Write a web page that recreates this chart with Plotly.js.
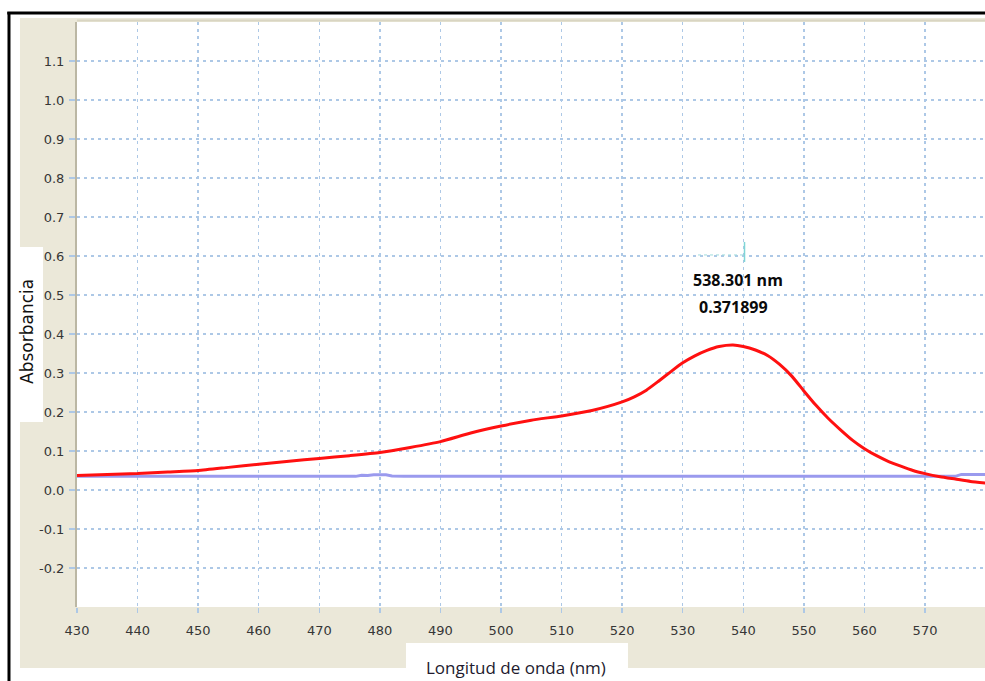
<!DOCTYPE html>
<html>
<head>
<meta charset="utf-8">
<script src="https://cdn.plot.ly/plotly-3.0.1.min.js"></script>
<style>
  html, body { margin: 0; padding: 0; background: #ffffff; }
  #chart { width: 985px; height: 681px; }
</style>
</head>
<body>
<div id="chart"></div>
<script>
// Sample absorbance spectrum (nm, absorbance)
const sampleWavelength = [430, 435, 440, 445, 450, 455, 460, 465, 470, 475, 480, 485, 490, 495, 500, 505, 510, 515, 520, 522, 524, 526, 528, 530, 532, 534, 536, 538.301, 540, 542, 544, 546, 548, 550, 552, 554, 556, 558, 560, 562, 564, 566, 568, 570, 572.5, 575, 577.5, 580];
const sampleAbsorbance = [0.037, 0.040, 0.042, 0.046, 0.050, 0.058, 0.066, 0.074, 0.081, 0.088, 0.096, 0.109, 0.124, 0.146, 0.164, 0.179, 0.190, 0.204, 0.226, 0.239, 0.256, 0.279, 0.303, 0.326, 0.344, 0.358, 0.368, 0.371899, 0.368, 0.359, 0.345, 0.322, 0.292, 0.254, 0.217, 0.184, 0.155, 0.128, 0.106, 0.088, 0.073, 0.061, 0.050, 0.042, 0.034, 0.028, 0.022, 0.018];

// Blank / baseline scan
const baselineWavelength = [430, 476, 477, 478, 479, 481, 482, 484, 575, 576, 580];
const baselineAbsorbance = [0.035, 0.035, 0.038, 0.037, 0.039, 0.039, 0.036, 0.035, 0.035, 0.040, 0.040];

// Peak read-out
const peakWavelength = 538.301;
const peakAbsorbance = 0.371899;

// Axis ticks
const xTickValues = [430, 440, 450, 460, 470, 480, 490, 500, 510, 520, 530, 540, 550, 560, 570];
const yTickValues = [-0.2, -0.1, 0.0, 0.1, 0.2, 0.3, 0.4, 0.5, 0.6, 0.7, 0.8, 0.9, 1.0, 1.1];
const yTickLabels = ["-0.2", "-0.1", "0.0", "0.1", "0.2", "0.3", "0.4", "0.5", "0.6", "0.7", "0.8", "0.9", "1.0", "1.1"];

const tickFont = { family: "DejaVu Sans", size: 13, color: "#363636" };
const gridColor = "#adc8e6";

const traces = [
  {
    x: baselineWavelength, y: baselineAbsorbance,
    type: "scatter", mode: "lines",
    line: { color: "#9a9aee", width: 3 },
    hoverinfo: "skip"
  },
  {
    x: sampleWavelength, y: sampleAbsorbance,
    type: "scatter", mode: "lines",
    line: { color: "#ff1010", width: 3, shape: "spline", smoothing: 0.5 },
    hoverinfo: "skip"
  }
];

// paper coordinates of the frame pieces (plot area spans 0..1)
const layout = {
  width: 985, height: 681,
  margin: { l: 77, r: 0, t: 22, b: 74, pad: 0 },
  paper_bgcolor: "#ffffff",
  plot_bgcolor: "#ffffff",
  showlegend: false,
  xaxis: {
    range: [430, 579.9],
    tickmode: "array", tickvals: xTickValues,
    showgrid: true, gridcolor: gridColor, gridwidth: 1.5, griddash: "3px,4px",
    ticks: "outside", ticklen: 5, tickcolor: gridColor, tickwidth: 1.5,
    ticklabelstandoff: 6,
    tickfont: tickFont,
    zeroline: false, showline: false
  },
  yaxis: {
    range: [-0.3, 1.2],
    tickmode: "array", tickvals: yTickValues, ticktext: yTickLabels,
    showgrid: true, gridcolor: gridColor, gridwidth: 1.5, griddash: "3px,4px",
    ticks: "outside", ticklen: 6, tickcolor: gridColor, tickwidth: 1.5,
    ticklabelstandoff: 2,
    tickfont: tickFont,
    zeroline: false,
    showline: true, linecolor: "#bbb7a4", linewidth: 2
  },
  shapes: [
    // beige instrument panel
    { type: "rect", xref: "paper", yref: "paper", x0: -0.0628, x1: 1.02, y0: -0.1043, y1: 1.0068,
      fillcolor: "#ebe8d9", line: { width: 0 }, layer: "below" },
    // white plotting field
    { type: "rect", xref: "paper", yref: "paper", x0: 0, x1: 1.02, y0: 0, y1: 1,
      fillcolor: "#ffffff", line: { width: 0 }, layer: "below" },
    // shaded top edge of the plotting field
    { type: "line", xref: "paper", yref: "paper", x0: 0, x1: 1.02, y0: 1.0025, y1: 1.0025,
      line: { color: "#d9d5c2", width: 2 }, layer: "below" },
    // white label boxes
    { type: "rect", xref: "paper", yref: "paper", x0: -0.0738, x1: -0.0374, y0: 0.3162, y1: 0.6154,
      fillcolor: "#ffffff", line: { width: 0 }, layer: "below" },
    { type: "rect", xref: "paper", yref: "paper", x0: 0.3623, x1: 0.6068, y0: -0.14, y1: -0.0615,
      fillcolor: "#ffffff", line: { width: 0 }, layer: "below" },
    // black window border (left and top)
    { type: "line", xref: "paper", yref: "paper", x0: -0.0749, x1: -0.0749, y0: -0.14, y1: 1.0171,
      line: { color: "#000000", width: 3 } },
    { type: "line", xref: "paper", yref: "paper", x0: -0.0768, x1: 1.02, y0: 1.0154, y1: 1.0154,
      line: { color: "#000000", width: 3 } },
    // cursor marker above the peak
    { type: "line", xref: "x", yref: "y", xsizemode: "pixel", ysizemode: "pixel",
      xanchor: peakWavelength, yanchor: peakAbsorbance,
      x0: 11.5, x1: 11.5, y0: 83, y1: 103,
      line: { color: "#7fd6d6", width: 1.5 } },
    { type: "line", xref: "x", yref: "y", xsizemode: "pixel", ysizemode: "pixel",
      xanchor: peakWavelength, yanchor: peakAbsorbance,
      x0: -35, x1: 10.5, y0: 90, y1: 90,
      line: { color: "#9fdcdc", width: 1, dash: "dot" } }
  ],
  annotations: [
    { text: "Absorbancia", xref: "paper", yref: "paper", x: -0.0551, y: 0.4718,
      textangle: -90, showarrow: false, xanchor: "center", yanchor: "middle",
      font: { family: "DejaVu Sans", size: 17, color: "#111111" } },
    { text: "Longitud de onda (nm)", xref: "paper", yref: "paper", x: 0.4835, y: -0.1026,
      showarrow: false, xanchor: "center", yanchor: "middle",
      font: { family: "Open Sans", size: 17, color: "#221a2e" } },
    { text: peakWavelength.toFixed(3) + " nm", xref: "x", yref: "y",
      x: peakWavelength, y: peakAbsorbance, xshift: 5, yshift: 65,
      showarrow: false, xanchor: "center", yanchor: "middle",
      font: { family: "Open Sans", size: 16, weight: 700, color: "#0a0a0a" } },
    { text: String(peakAbsorbance), xref: "x", yref: "y",
      x: peakWavelength, y: peakAbsorbance, xshift: 0, yshift: 38,
      showarrow: false, xanchor: "center", yanchor: "middle",
      font: { family: "Open Sans", size: 16, weight: 700, color: "#0a0a0a" } }
  ]
};

Plotly.newPlot("chart", traces, layout, { staticPlot: true, displayModeBar: false });
</script>
</body>
</html>
